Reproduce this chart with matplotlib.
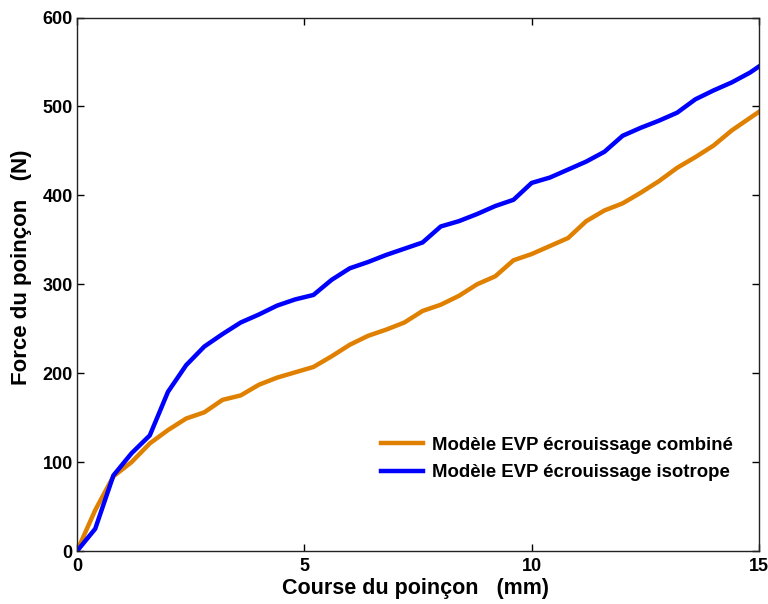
import numpy as np
import matplotlib.pyplot as plt

# Punch stroke (mm) and punch force (N) for both material models
course = [0, 0.4, 0.8, 1.2, 1.6, 2.0, 2.4, 2.8, 3.2, 3.6, 4.0, 4.4, 4.8, 5.2,
          5.6, 6.0, 6.4, 6.8, 7.2, 7.6, 8.0, 8.4, 8.8, 9.2, 9.6, 10.0, 10.4,
          10.8, 11.2, 11.6, 12.0, 12.4, 12.8, 13.2, 13.6, 14.0, 14.4, 14.8, 15.0]
force_combine = [0, 46, 84, 100, 121, 136, 149, 156, 170, 175, 187, 195, 201,
                 207, 219, 232, 242, 249, 257, 270, 277, 287, 300, 309, 327,
                 334, 343, 352, 371, 383, 391, 403, 416, 431, 443, 456, 473,
                 487, 494]
force_isotrope = [0, 25, 85, 110, 130, 179, 209, 230, 244, 257, 266, 276, 283,
                  288, 305, 318, 325, 333, 340, 347, 365, 371, 379, 388, 395,
                  414, 420, 429, 438, 449, 467, 476, 484, 493, 508, 518, 527,
                  538, 545]

plt.rcParams['font.family'] = ['Liberation Sans', 'DejaVu Sans']
plt.rcParams['font.weight'] = 'bold'

fig = plt.figure(figsize=(7.68, 6.04), dpi=100)
ax = fig.add_axes([0.1003, 0.0877, 0.8880, 0.8833])

ax.plot(course, force_combine, color='#E08000', lw=3.2,
        label='Modèle EVP écrouissage combiné')
ax.plot(course, force_isotrope, color='#0000FF', lw=3.2,
        label='Modèle EVP écrouissage isotrope')

ax.set_xlim(0, 15)
ax.set_ylim(0, 600)
ax.set_xticks([0, 5, 10, 15])
ax.set_yticks(range(0, 700, 100))
ax.tick_params(direction='in', top=True, right=True, length=5, width=1,
               labelsize=13)
ax.tick_params(axis='x', pad=5)
ax.tick_params(axis='y', pad=3)
for lab in ax.get_xticklabels() + ax.get_yticklabels():
    lab.set_fontweight('bold')
for sp in ax.spines.values():
    sp.set_color('#222222')
    sp.set_linewidth(1.0)

ax.set_xlabel('Course du poinçon   (mm)', fontsize=15.5, fontweight='bold')
ax.set_ylabel('Force du poinçon   (N)', fontsize=16, fontweight='bold')
ax.xaxis.set_label_coords(0.497, -0.05)
ax.yaxis.set_label_coords(-0.066, 0.532)

leg = ax.legend(loc='upper left', bbox_to_anchor=(0.445, 0.214), frameon=False,
                handlelength=2.3, handletextpad=0.45, labelspacing=0.55,
                borderpad=0, borderaxespad=0,
                prop={'size': 13.4, 'weight': 'bold'})

fig.savefig('out.png', dpi=100)
